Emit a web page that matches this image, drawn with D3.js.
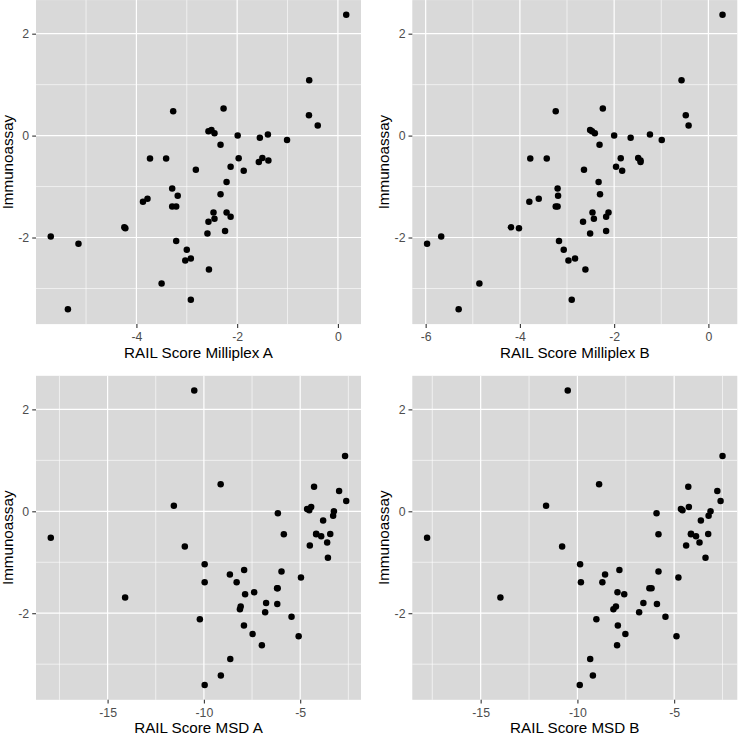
<!DOCTYPE html>
<html>
<head>
<meta charset="utf-8">
<script src="https://cdn.jsdelivr.net/npm/d3@7"></script>
<style>
  body { margin: 0; background: #ffffff; }
  text { font-family: "Liberation Sans", Arial, sans-serif; }
</style>
</head>
<body>
<div id="chart"></div>
<script>
// shared y values (same samples in every panel)
const immunoassay = [2.37, 1.085, 0.40, 0.20, -0.085, 0.02, -0.04, -0.49, -0.44, -0.52, 0.0, -0.445, -0.61, -0.69, 0.53, 0.085, 0.11, 0.045, -0.18, -0.91, -1.15, -1.51, -1.51, -1.59, -1.63, -1.69, -1.87, -1.92, -2.63, -0.67, 0.48, -0.45, -0.45, -1.04, -1.18, -1.39, -1.39, -1.30, -1.24, -1.80, -1.82, -2.07, -2.24, -2.45, -2.41, -2.90, -3.22, -1.98, -2.12, -3.41];

const milliplexA = [0.165, -0.57, -0.575, -0.40, -1.01, -1.39, -1.55, -1.38, -1.50, -1.57, -1.99, -1.97, -2.13, -1.87, -2.27, -2.57, -2.51, -2.45, -2.33, -2.21, -2.33, -2.47, -2.21, -2.13, -2.45, -2.57, -2.24, -2.59, -2.56, -2.82, -3.27, -3.73, -3.41, -3.29, -3.18, -3.29, -3.21, -3.87, -3.78, -4.24, -4.22, -3.21, -3.00, -3.03, -2.92, -3.50, -2.92, -5.70, -5.15, -5.36];

const milliplexB = [0.30, -0.57, -0.48, -0.42, -0.99, -1.24, -1.65, -1.44, -1.49, -1.44, -2.00, -1.86, -1.96, -1.83, -2.24, -2.47, -2.51, -2.41, -2.31, -2.33, -2.30, -2.46, -2.12, -2.17, -2.43, -2.66, -2.17, -2.51, -2.61, -2.64, -3.24, -3.78, -3.43, -3.20, -3.19, -3.24, -3.20, -3.80, -3.60, -4.19, -4.02, -3.17, -3.07, -2.97, -2.83, -4.86, -2.90, -5.67, -5.97, -5.30];

const msdA = [-10.50, -2.67, -2.98, -2.61, -3.29, -4.53, -6.16, -3.91, -4.17, -17.95, -3.25, -3.44, -3.60, -10.99, -9.13, -4.43, -11.56, -4.64, -3.81, -3.56, -7.91, -6.17, -6.20, -7.39, -7.86, -14.09, -8.09, -8.13, -6.99, -4.50, -4.28, -5.85, -4.17, -9.96, -5.97, -9.96, -8.30, -4.96, -8.65, -6.77, -6.19, -5.45, -7.92, -5.08, -7.47, -8.63, -9.12, -6.82, -10.21, -9.96];

const msdB = [-10.50, -2.50, -2.77, -2.60, -3.22, -4.57, -5.91, -3.87, -4.13, -17.77, -3.12, -3.24, -3.69, -10.79, -8.88, -4.24, -11.62, -4.65, -3.62, -3.38, -7.83, -6.28, -6.17, -7.93, -7.58, -13.98, -8.01, -8.14, -7.95, -4.38, -4.27, -5.81, -4.13, -9.86, -5.81, -9.82, -8.71, -4.78, -8.57, -6.59, -5.89, -5.45, -7.91, -4.88, -7.52, -9.34, -9.20, -6.81, -9.02, -9.88];

const yTicks = [-2, 0, 2];
const xTicksMilliplexA = [-4, -2, 0];
const xTicksMilliplexB = [-6, -4, -2, 0];
const xTicksMSD = [-15, -10, -5];
const yTitle = "Immunoassay";

const width = 738;
const height = 735;
const plotW = 325;
const plotH = 324;

const svg = d3
  .select("#chart")
  .append("svg")
  .attr("width", width)
  .attr("height", height);

// ggplot style: 5% expansion of the data range
function expanded(values) {
  const ext = d3.extent(values);
  const pad = (ext[1] - ext[0]) * 0.05;
  return [ext[0] - pad, ext[1] + pad];
}

function minorOf(ticks, domain) {
  const step = ticks[1] - ticks[0];
  const out = [];
  for (let i = -1; i < ticks.length; i++) {
    const m = (i < 0 ? ticks[0] - step : ticks[i]) + step / 2;
    if (m > domain[0] && m < domain[1]) out.push(m);
  }
  return out;
}

const fmt = (d) => d3.format("d")(d).replace("−", "-");

function panel(xs, xTicks, xTitle, left, top) {
  const g = svg.append("g").attr("transform", "translate(" + left + "," + top + ")");

  const x = d3.scaleLinear().domain(expanded(xs)).range([0, plotW]);
  const y = d3.scaleLinear().domain(expanded(immunoassay)).range([plotH, 0]);

  g.append("rect")
    .attr("width", plotW)
    .attr("height", plotH)
    .attr("fill", "#d9d9d9");

  // minor grid
  g.selectAll(".minor-x")
    .data(minorOf(xTicks, x.domain()))
    .enter()
    .append("line")
    .attr("stroke", "#ffffff")
    .attr("stroke-width", 0.6)
    .attr("x1", (d) => x(d))
    .attr("x2", (d) => x(d))
    .attr("y1", 0)
    .attr("y2", plotH);

  g.selectAll(".minor-y")
    .data(minorOf(yTicks, y.domain()))
    .enter()
    .append("line")
    .attr("stroke", "#ffffff")
    .attr("stroke-width", 0.6)
    .attr("y1", (d) => y(d))
    .attr("y2", (d) => y(d))
    .attr("x1", 0)
    .attr("x2", plotW);

  // major grid
  g.selectAll(".major-x")
    .data(xTicks)
    .enter()
    .append("line")
    .attr("stroke", "#ffffff")
    .attr("stroke-width", 1.2)
    .attr("x1", (d) => x(d))
    .attr("x2", (d) => x(d))
    .attr("y1", 0)
    .attr("y2", plotH);

  g.selectAll(".major-y")
    .data(yTicks)
    .enter()
    .append("line")
    .attr("stroke", "#ffffff")
    .attr("stroke-width", 1.2)
    .attr("y1", (d) => y(d))
    .attr("y2", (d) => y(d))
    .attr("x1", 0)
    .attr("x2", plotW);

  // axes
  const xAxis = g
    .append("g")
    .attr("transform", "translate(0," + plotH + ")")
    .call(d3.axisBottom(x).tickValues(xTicks).tickSize(3.8).tickPadding(4.6).tickFormat(fmt));

  const yAxis = g
    .append("g")
    .call(d3.axisLeft(y).tickValues(yTicks).tickSize(3.8).tickPadding(3).tickFormat(fmt));

  [xAxis, yAxis].forEach((a) => {
    a.select(".domain").remove();
    a.selectAll(".tick line").attr("stroke", "#333333").attr("stroke-width", 1.1);
    a.selectAll(".tick text")
      .attr("fill", "#4d4d4d")
      .attr("font-size", "12.3px")
      .attr("font-family", "'Liberation Sans', Arial, sans-serif");
  });

  // points
  g.selectAll(".pt")
    .data(xs)
    .enter()
    .append("circle")
    .attr("class", "pt")
    .attr("cx", (d) => x(d))
    .attr("cy", (d, i) => y(immunoassay[i]))
    .attr("r", 3.25)
    .attr("fill", "#000000");

  g.append("text")
    .attr("x", plotW / 2)
    .attr("y", plotH + 33.6)
    .attr("text-anchor", "middle")
    .attr("font-size", "15.2px")
    .attr("fill", "#000000")
    .text(xTitle);

  g.append("text")
    .attr("transform", "translate(-28.6," + plotH / 2 + ") rotate(-90)")
    .attr("text-anchor", "middle")
    .attr("dominant-baseline", "central")
    .attr("font-size", "15.2px")
    .attr("fill", "#000000")
    .text(yTitle);
}

panel(milliplexA, xTicksMilliplexA, "RAIL Score Milliplex A", 36, 0.1);
panel(milliplexB, xTicksMilliplexB, "RAIL Score Milliplex B", 412.3, 0.1);
panel(msdA, xTicksMSD, "RAIL Score MSD A", 36, 375.8);
panel(msdB, xTicksMSD, "RAIL Score MSD B", 412.3, 375.8);
</script>
</body>
</html>
